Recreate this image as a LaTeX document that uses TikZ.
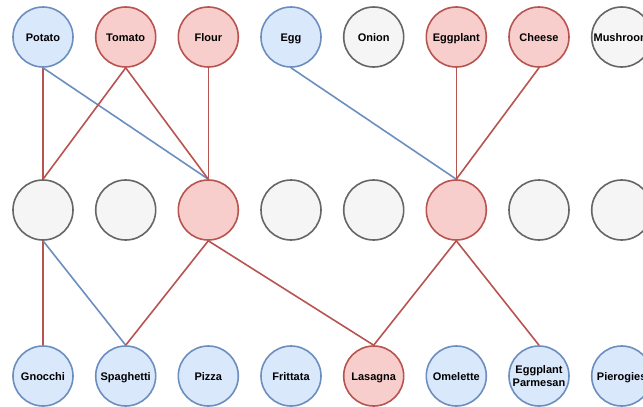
\documentclass[tikz,border=0pt]{standalone}
\usepackage{fontspec}
\setmainfont{Liberation Sans}
\usetikzlibrary{backgrounds}
\definecolor{bfill}{HTML}{DAE8FC}
\definecolor{bline}{HTML}{6C8EBF}
\definecolor{rfill}{HTML}{F8CECC}
\definecolor{rline}{HTML}{B85450}
\definecolor{gfill}{HTML}{F5F5F5}
\definecolor{gline}{HTML}{666666}
\begin{document}
\begin{tikzpicture}[x=1pt,y=-1pt,
  base/.style={circle,minimum size=60pt,inner sep=0pt,line width=1.6pt,font=\fontsize{11}{13.5}\selectfont\bfseries,align=center,text height=10pt,text depth=2pt},
  bnode/.style={base,draw=bline,fill=bfill},
  rnode/.style={base,draw=rline,fill=rfill},
  gnode/.style={base,draw=gline,fill=gfill},
  bedge/.style={draw=bline,line width=1.6pt},
  redge/.style={draw=rline,line width=1.6pt}]
\useasboundingbox (0,0) rectangle (643,407);
\clip (0,0) rectangle (643,407);
% top row
\node[bnode] (potato) at (43,37) {Potato};
\node[rnode] (tomato) at (125.7,37) {Tomato};
\node[rnode] (flour) at (208.3,37) {Flour};
\node[bnode] (egg) at (291,37) {Egg};
\node[gnode] (onion) at (373.7,37) {Onion};
\node[rnode] (eggplant) at (456.3,37) {Eggplant};
\node[rnode] (cheese) at (539,37) {Cheese};
\node[gnode] (mushroom) at (621.7,37) {Mushroom};
% middle row
\node[gnode] (m1) at (43,210) {};
\node[gnode] (m2) at (125.7,210) {};
\node[rnode] (m3) at (208.3,210) {};
\node[gnode] (m4) at (291,210) {};
\node[gnode] (m5) at (373.7,210) {};
\node[rnode] (m6) at (456.3,210) {};
\node[gnode] (m7) at (539,210) {};
\node[gnode] (m8) at (621.7,210) {};
% bottom row
\node[bnode] (gnocchi) at (43,376) {Gnocchi};
\node[bnode] (spaghetti) at (125.7,376) {Spaghetti};
\node[bnode] (pizza) at (208.3,376) {Pizza};
\node[bnode] (frittata) at (291,376) {Frittata};
\node[rnode] (lasagna) at (373.7,376) {Lasagna};
\node[bnode] (omelette) at (456.3,376) {Omelette};
\node[bnode,text height={},text depth={}] (eparm) at (539,376) {Eggplant\\Parmesan};
\node[bnode] (pierogies) at (621.7,376) {Pierogies};
% edges
\begin{scope}[on background layer]
\path[redge] (potato.south) -- (m1.north);
\path[bedge] (potato.south) -- (m3.north);
\path[redge] (tomato.south) -- (m1.north);
\path[redge] (tomato.south) -- (m3.north);
\path[redge] (flour.south) -- (m3.north);
\path[bedge] (egg.south) -- (m6.north);
\path[redge] (eggplant.south) -- (m6.north);
\path[redge] (cheese.south) -- (m6.north);
\path[redge] (m1.south) -- (gnocchi.north);
\path[bedge] (m1.south) -- (spaghetti.north);
\path[redge] (m3.south) -- (spaghetti.north);
\path[redge] (m3.south) -- (lasagna.north);
\path[redge] (m6.south) -- (lasagna.north);
\path[redge] (m6.south) -- (eparm.north);
\end{scope}
\end{tikzpicture}
\end{document}
